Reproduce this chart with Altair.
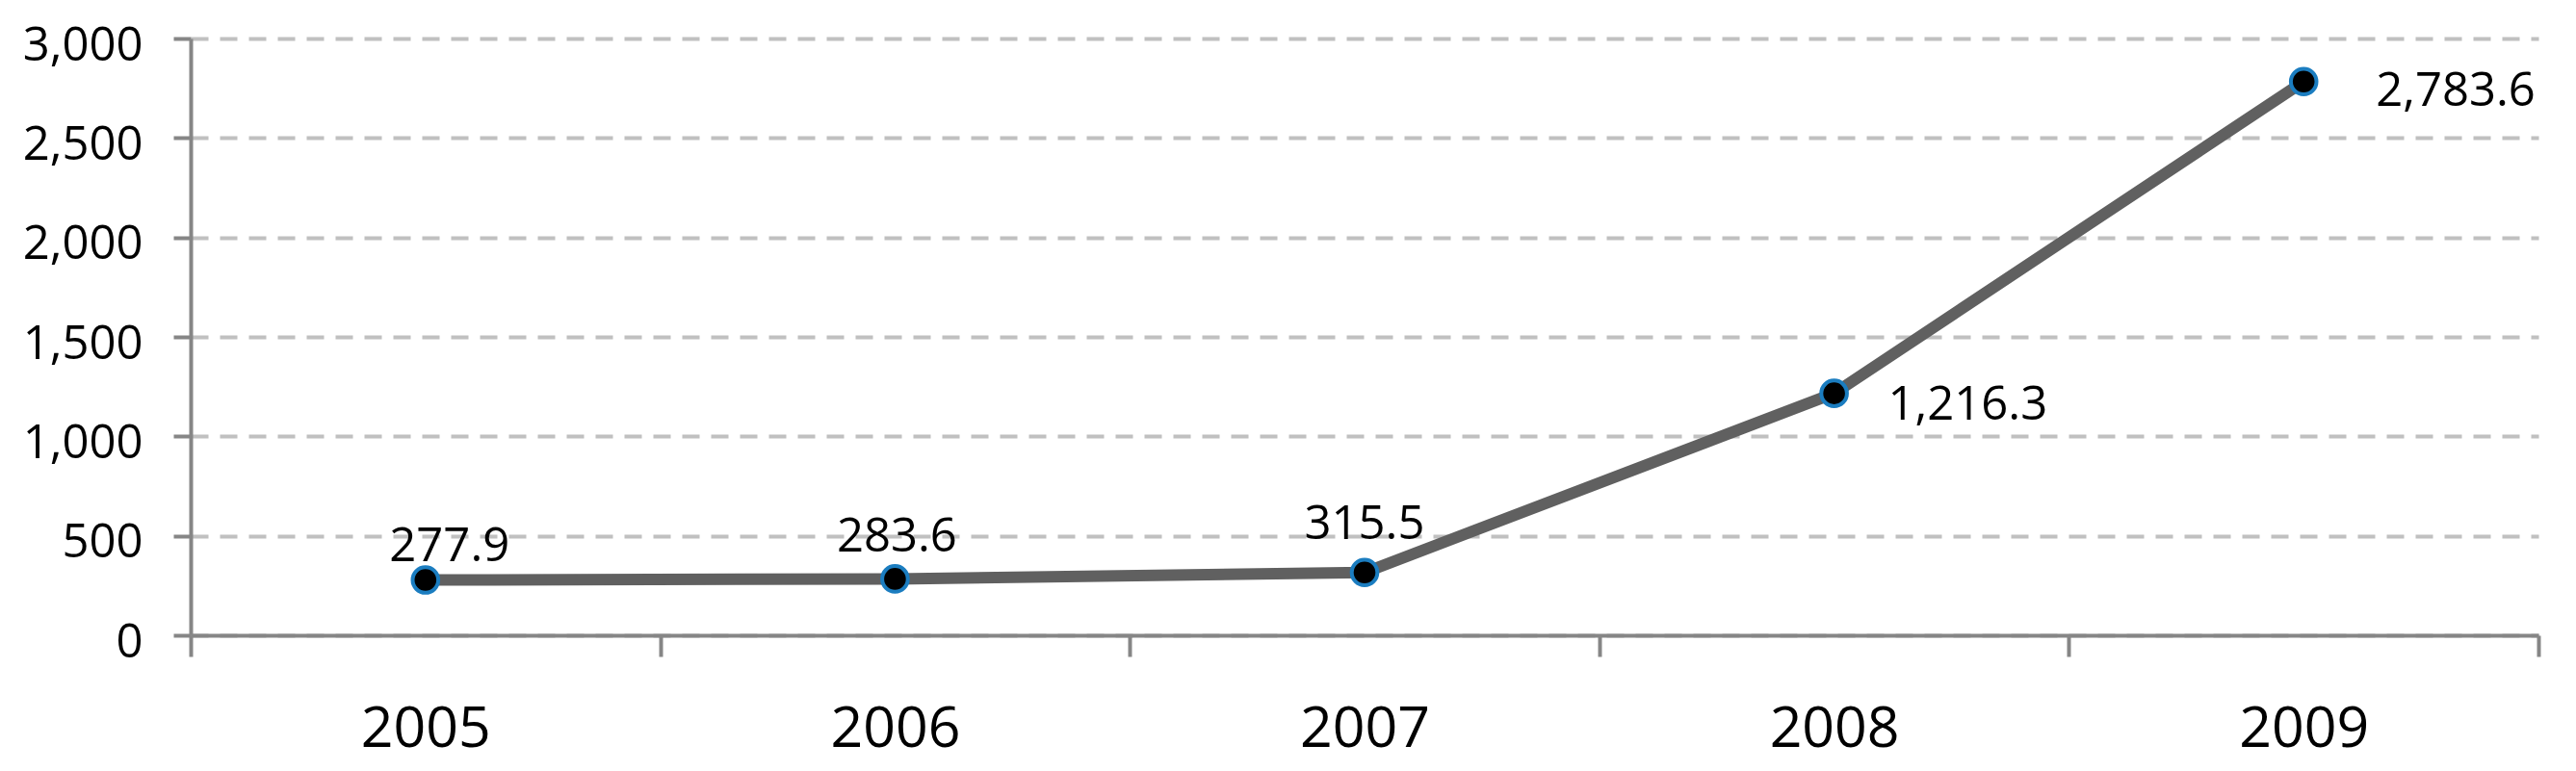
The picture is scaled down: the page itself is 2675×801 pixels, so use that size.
import altair as alt
import pandas as pd

years = ["2005", "2006", "2007", "2008", "2009"]
values = [277.9, 283.6, 315.5, 1216.3, 2783.6]
labels = ["277.9", "283.6", "315.5", "1,216.3", "2,783.6"]
y_ticks = [0, 500, 1000, 1500, 2000, 2500, 3000]

df = pd.DataFrame({"year": years, "value": values, "label": labels})

FONT = "Open Sans"
AXIS_GREY = "#868686"

x = alt.X(
    "year:O",
    scale=alt.Scale(type="band", paddingInner=0, paddingOuter=0),
    axis=alt.Axis(
        title=None, labelAngle=0, tickBand="extent", labelFontSize=59,
        labelFont=FONT, labelColor="black", labelPadding=46, tickSize=22,
        tickWidth=4, tickColor=AXIS_GREY, domainColor=AXIS_GREY,
        domainWidth=4, grid=False,
    ),
)
y = alt.Y(
    "value:Q",
    scale=alt.Scale(domain=[0, 3000], nice=False, zero=True),
    axis=alt.Axis(
        title=None, values=y_ticks, format=",.0f", labelFontSize=49,
        labelFont=FONT, labelColor="black", labelPadding=32, tickSize=18,
        tickWidth=4, tickColor=AXIS_GREY, domainColor=AXIS_GREY,
        domainWidth=4, grid=True, gridColor="#c0c0c0", gridWidth=4,
        gridDash=[18, 12], labelBaseline="alphabetic", labelOffset=22,
    ),
)

base = alt.Chart(df).encode(x=x, y=y)

line = base.mark_line(color="#606060", strokeWidth=12)
points = base.mark_circle(size=707, color="black", stroke="#1b7dc0",
                          strokeWidth=4, opacity=1)

# label placement (style): (dx, dy, align)
label_style = {
    "2005": (25, -20, "center"),
    "2006": (2, -28, "center"),
    "2007": (0, -35, "center"),
    "2008": (56, 27, "left"),
    "2009": (75, 25, "left"),
}
text_layers = []
for yr in years:
    dx, dy, al = label_style[yr]
    text_layers.append(
        base.transform_filter(alt.datum.year == yr)
        .mark_text(font=FONT, fontSize=49, color="black", dx=dx, dy=dy,
                   align=al, baseline="alphabetic")
        .encode(text="label:N")
    )

chart = alt.layer(line, points, *text_layers).properties(
    width=2438, height=620,
    autosize=alt.AutoSizeParams(type="none"),
    padding={"left": 190, "top": 32, "right": 31, "bottom": 133},
    background="white",
).configure_view(stroke=None)

chart.save("out.html", embed_options={"renderer": "svg", "actions": False})
